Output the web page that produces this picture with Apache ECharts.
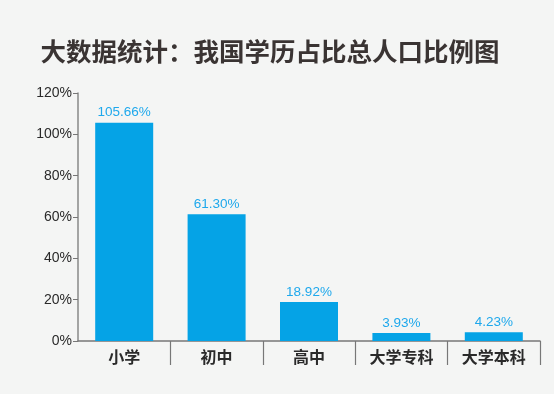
<!DOCTYPE html>
<html><head><meta charset="utf-8">
<script src="https://cdn.jsdelivr.net/npm/echarts@6/dist/echarts.min.js"></script>
<style>html,body{margin:0;padding:0;background:#f4f5f4;}#c{width:554px;height:394px;}</style>
</head><body><div id="c"></div>
<script>
var titleText = '大数据统计：我国学历占比总人口比例图';
var categories = ['小学', '初中', '高中', '大学专科', '大学本科'];
var values = [105.66, 61.30, 18.92, 3.93, 4.23];
var labels = ['105.66%', '61.30%', '18.92%', '3.93%', '4.23%'];
var yTicks = [0, 20, 40, 60, 80, 100, 120];

var chart = echarts.init(document.getElementById('c'), null, {renderer: 'canvas'});
chart.setOption({
  backgroundColor: '#f4f5f4',
  animation: false,
  title: {
    text: titleText, left: 265, top: 34, textAlign: 'center',
    textStyle: {fontFamily: '"Noto Sans CJK SC", sans-serif', fontSize: 25.5, fontWeight: 'bold', color: '#3a3433'}
  },
  grid: {left: 78, right: 14, top: 93, bottom: 53},
  xAxis: {
    type: 'category', data: categories,
    axisLine: {lineStyle: {color: '#777', width: 1.5}},
    axisTick: {show: true, length: 24, interval: function (i) { return i !== 0; }, lineStyle: {color: '#777', width: 1.2}},
    axisLabel: {margin: 8, color: '#2a2a2a', fontSize: 16, fontWeight: 'bold', fontFamily: '"Noto Sans CJK SC", sans-serif'}
  },
  yAxis: {
    type: 'value', min: yTicks[0], max: yTicks[yTicks.length - 1], interval: 20,
    splitLine: {show: false},
    axisLine: {show: true, lineStyle: {color: '#888', width: 1.5}},
    axisTick: {show: true, length: 5, lineStyle: {color: '#777'}},
    axisLabel: {formatter: '{value}%', color: '#2a2a2a', fontSize: 14, margin: 6, fontFamily: '"Liberation Sans", Arial, sans-serif'}
  },
  series: [{
    type: 'bar', data: values, barWidth: 58,
    itemStyle: {color: '#05a3e6'},
    label: {
      show: true, position: 'top', distance: 3,
      formatter: function (p) { return labels[p.dataIndex]; },
      color: '#1ea8ec', fontSize: 13.5, fontFamily: '"Liberation Sans", Arial, sans-serif'
    }
  }]
});
</script></body></html>
